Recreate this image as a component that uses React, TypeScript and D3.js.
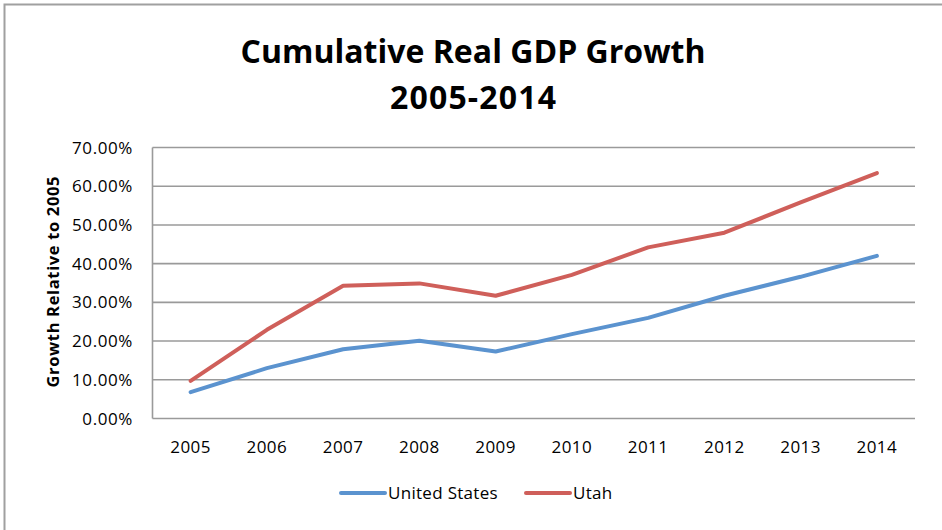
import React, {useEffect, useRef} from "react";
import * as d3 from "d3";

const years = ["2005", "2006", "2007", "2008", "2009", "2010", "2011", "2012", "2013", "2014"];
const unitedStates = [6.8, 13.0, 17.9, 20.1, 17.3, 21.8, 26.0, 31.7, 36.6, 42.0];
const utah = [9.7, 22.9, 34.3, 34.9, 31.7, 37.1, 44.2, 48.0, 55.8, 63.4];
const yTicks = [0, 10, 20, 30, 40, 50, 60, 70];

const seriesNames = ["United States", "Utah"];
const seriesColors = ["#5b93cf", "#cf5f5a"];

const W = 942;
const H = 530;
const FONT = "'Open Sans', sans-serif";

const App = () => {
  const ref = useRef<SVGSVGElement>(null);

  useEffect(() => {
    const svg = d3.select(ref.current);
    svg.selectAll("*").remove();

    // outer frame (only top and left visible in the crop)
    svg.append("rect")
      .attr("x", 4.5).attr("y", 4.5)
      .attr("width", W + 20).attr("height", H + 20)
      .attr("fill", "white")
      .attr("stroke", "#a0a0a0")
      .attr("stroke-width", 2);

    const left = 152.5, right = 915, top = 147.5, bottom = 418.5;

    const x = d3.scaleBand().domain(years).range([left, right]);
    const y = d3.scaleLinear().domain([0, 70]).range([bottom, top]);

    // gridlines
    svg.append("g")
      .selectAll("line")
      .data(yTicks)
      .join("line")
      .attr("x1", left).attr("x2", right)
      .attr("y1", d => y(d)).attr("y2", d => y(d))
      .attr("stroke", "#9a9a9a")
      .attr("stroke-width", 1.6);

    // left axis line
    svg.append("line")
      .attr("x1", left).attr("x2", left)
      .attr("y1", top).attr("y2", bottom)
      .attr("stroke", "#9a9a9a")
      .attr("stroke-width", 1.6);

    // y tick labels
    svg.append("g")
      .selectAll("text")
      .data(yTicks)
      .join("text")
      .attr("x", 133)
      .attr("y", d => y(d))
      .attr("dy", "0.36em")
      .attr("text-anchor", "end")
      .attr("font-family", FONT)
      .attr("font-size", 17)
      .attr("letter-spacing", 0.6)
      .attr("fill", "#000")
      .text(d => d.toFixed(2) + "%");

    // x tick labels
    svg.append("g")
      .selectAll("text")
      .data(years)
      .join("text")
      .attr("x", d => (x(d) as number) + x.bandwidth() / 2)
      .attr("y", 453)
      .attr("text-anchor", "middle")
      .attr("font-family", FONT)
      .attr("font-size", 17)
      .attr("letter-spacing", 0.5)
      .attr("fill", "#000")
      .text(d => d);

    // axis title
    svg.append("text")
      .attr("transform", "translate(59,282) rotate(-90)")
      .attr("text-anchor", "middle")
      .attr("font-family", FONT)
      .attr("font-size", 16.5)
      .attr("font-weight", "bold")
      .attr("textLength", 211)
      .attr("lengthAdjust", "spacing")
      .text("Growth Relative to 2005");

    // title
    const title = svg.append("text")
      .attr("text-anchor", "middle")
      .attr("font-family", FONT)
      .attr("font-size", 32)
      .attr("font-weight", "bold");
    title.append("tspan").attr("x", 473).attr("y", 63)
      .attr("textLength", 465).attr("lengthAdjust", "spacing")
      .text("Cumulative Real GDP Growth");
    title.append("tspan").attr("x", 473).attr("y", 109)
      .attr("textLength", 166).attr("lengthAdjust", "spacing")
      .text("2005-2014");

    // lines
    const lineGen = d3.line<number>()
      .x((_, i) => (x(years[i]) as number) + x.bandwidth() / 2)
      .y(d => y(d));

    [unitedStates, utah].forEach((values, i) => {
      svg.append("path")
        .datum(values)
        .attr("d", lineGen)
        .attr("fill", "none")
        .attr("stroke", seriesColors[i])
        .attr("stroke-width", 4)
        .attr("stroke-linejoin", "round")
        .attr("stroke-linecap", "round");
    });

    // legend
    const legendX = [341, 526];
    seriesNames.forEach((name, i) => {
      svg.append("line")
        .attr("x1", legendX[i]).attr("x2", legendX[i] + 44)
        .attr("y1", 493).attr("y2", 493)
        .attr("stroke", seriesColors[i])
        .attr("stroke-width", 4)
        .attr("stroke-linecap", "round");
      svg.append("text")
        .attr("x", legendX[i] + 47)
        .attr("y", 499)
        .attr("font-family", FONT)
        .attr("font-size", 17)
        .attr("letter-spacing", 0.3)
        .text(name);
    });
  }, []);

  return (
    <svg
      ref={ref}
      width={W}
      height={H}
      style={{position: "absolute", left: 0, top: 0, background: "white"}}
    />
  );
};

export default App;
